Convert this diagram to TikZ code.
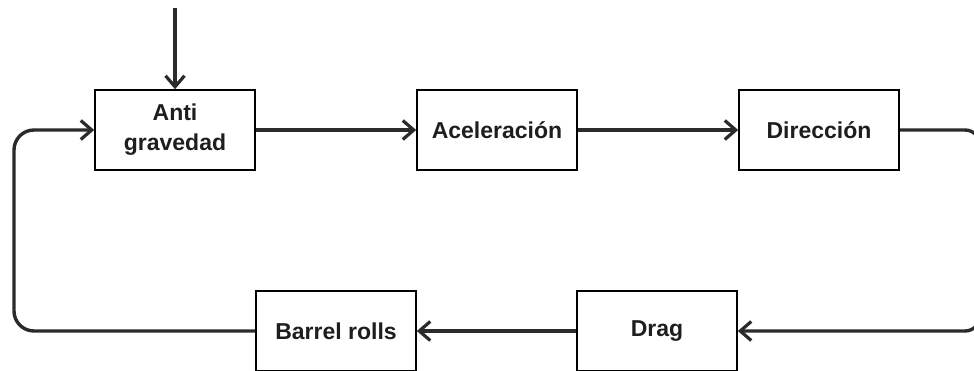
\documentclass[tikz,border=0pt]{standalone}
\usepackage{fontspec}
\setmainfont{Liberation Sans}
\usetikzlibrary{arrows.meta}
\definecolor{wire}{HTML}{2B2B2B}
\definecolor{ink}{HTML}{1E1E1E}
\begin{document}
\begin{tikzpicture}[x=1pt,y=-1pt,
  blockbox/.style={draw=black, line width=1.6pt, fill=white, minimum width=160pt,
    minimum height=80pt, inner sep=0pt, align=center, text=ink,
    font=\fontsize{23}{30}\selectfont\bfseries},
  wireline/.style={draw=wire, line width=3.4pt},
  tip/.style={-{Straight Barb[length=11pt,width=19pt,line width=3.2pt]}}]
  \useasboundingbox (0,0) rectangle (974,371);

  \node[blockbox] (anti)   at (175,130) {Anti\\gravedad};
  \node[blockbox] (acel)   at (497,130) {Aceleración};
  \node[blockbox] (dir)    at (819,130) {Dirección};
  \node[blockbox] (drag)   at (657,331) {Drag};
  \node[blockbox] (barrel) at (336,331) {Barrel rolls};

  \coordinate (src) at (175,8);
  \coordinate (rtop) at (980,130);
  \coordinate (rbot) at (980,331);
  \coordinate (lbot) at (14,331);
  \coordinate (ltop) at (14,130);

  % main chain
  \draw[wireline, tip] (src) -- (anti.north);
  \draw[wireline, tip] (anti.east) -- (acel.west);
  \draw[wireline, tip] (acel.east) -- (dir.west);
  \draw[wireline, tip, rounded corners=15pt] (dir.east) -- (rtop) -- (rbot) -- (drag.east);
  \draw[wireline, tip] (drag.west) -- (barrel.east);
  % feedback loop back to the first block
  \draw[wireline, tip, rounded corners=20pt] (barrel.west) -- (lbot) -- (ltop) -- (anti.west);
\end{tikzpicture}
\end{document}
